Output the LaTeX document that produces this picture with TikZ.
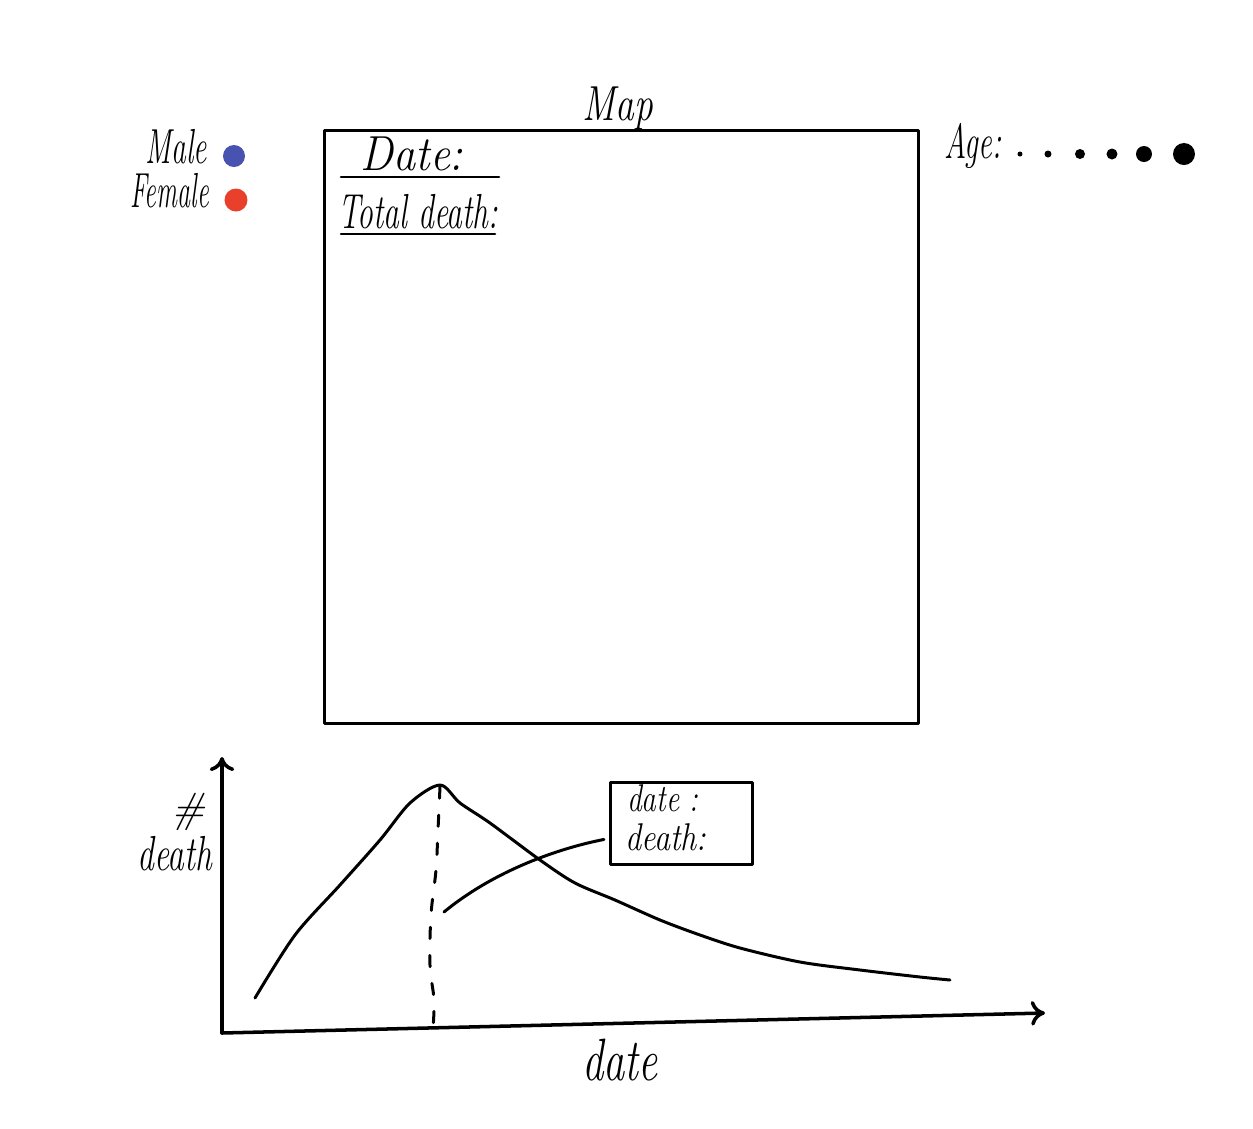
\documentclass[tikz,border=0pt]{standalone}
\usetikzlibrary{arrows.meta,calc}
\definecolor{maleblue}{RGB}{72,82,176}
\definecolor{femalered}{RGB}{232,64,42}
\newcommand{\handw}[2][0.65]{\scalebox{#1}[1]{#2}}
\tikzset{
  hand/.style={font=\itshape\fontsize{14}{16}\selectfont,inner sep=1pt},
  small hand/.style={font=\itshape\fontsize{11}{13}\selectfont,inner sep=1pt},
  axis/.style={line width=1pt,-{To[length=4pt,width=7pt]}},
  under/.style={line width=0.75pt}
}
\begin{document}
\begin{tikzpicture}[x=0.01cm,y=-0.01cm,line join=round,line cap=round]
\useasboundingbox (0,0) rectangle (1253,1129);

%% carte
   \node [draw,line width=0.75pt,minimum width=5.94cm,minimum height=5.93cm,anchor=north west] (map) at (323,129) {};
   \node [hand,anchor=base] (maptitle) at (618,120) {\handw[0.76]{Map}};

   \node [hand,anchor=base] (date) at (412,170) {\handw[0.9]{Date:}};
   \draw [under] (341,177) -- (499,177);
   \node [hand,anchor=base] (total) at (418,228) {\handw[0.64]{Total death:}};
   \draw [under] (341,234) -- (495,234);

%% legende sexe
   \node [hand,anchor=base east] (male) at (211,163) {\handw[0.6]{Male}};
   \fill [maleblue] (234,156) circle (11);
   \node [hand,anchor=base east] (female) at (213,207) {\handw[0.53]{Female}};
   \fill [femalered] (236,200) circle (11.5);

%% legende age
   \node [hand,anchor=base west] (age) at (940,158) {\handw[0.62]{Age:}};
   \foreach \x/\r in {1020/2.5,1048/3.5,1080/5,1112/5.5,1144/8,1184/11}
      \fill (\x,154) circle (\r);

%% graphique
   \coordinate (origin) at (222,1033);
   \coordinate (ytop) at (222,757);
   \coordinate (xend) at (1045,1013);
   \draw [axis] (origin) -- (ytop);
   \draw [axis] (origin) -- (xend);

   \node [hand,anchor=base,inner sep=0pt,font=\itshape\fontsize{12}{14}\selectfont] (hash) at (188,822) {\#};
   \node [hand,anchor=base] (ylabel) at (175,870) {\handw[0.68]{death}};
   \node [hand,anchor=base,font=\itshape\fontsize{17}{19}\selectfont] (xlabel) at (620,1080) {\handw[0.71]{date}};

   %courbe
   \draw [line width=0.85pt] plot [smooth,tension=0.5] coordinates {
      (255,998) (295,935) (340,885) (380,840) (410,803) (440,785)
      (460,803) (490,823) (540,860) (575,883) (615,900) (660,920)
      (700,935) (740,948) (800,962) (860,970) (920,977) (950,980)};

   %ligne verticale
   \coordinate (peak) at (440,787);
   \coordinate (hover) at (444,912);
   \draw [line width=0.85pt,dash pattern=on 3.2pt off 4.8pt] plot [smooth,tension=0.6] coordinates {
      (peak) (438,830) (436,870) (431,915) (430,965) (434,1000) (433,1028)};

   %info-bulle
   \node [draw,line width=0.8pt,minimum width=1.42cm,minimum height=0.82cm,anchor=north west] (tip) at (609,781) {};
   \node [small hand,anchor=base west] (tipdate) at (623,811) {\handw[0.76]{date :}};
   \node [small hand,anchor=base west] (tipdeath) at (621,850) {\handw[0.83]{death:}};
   \draw [line width=0.85pt] (hover) .. controls (495,870) and (560,848) .. ([xshift=-0.05cm,yshift=-0.16cm]tip.west);

\end{tikzpicture}
\end{document}
